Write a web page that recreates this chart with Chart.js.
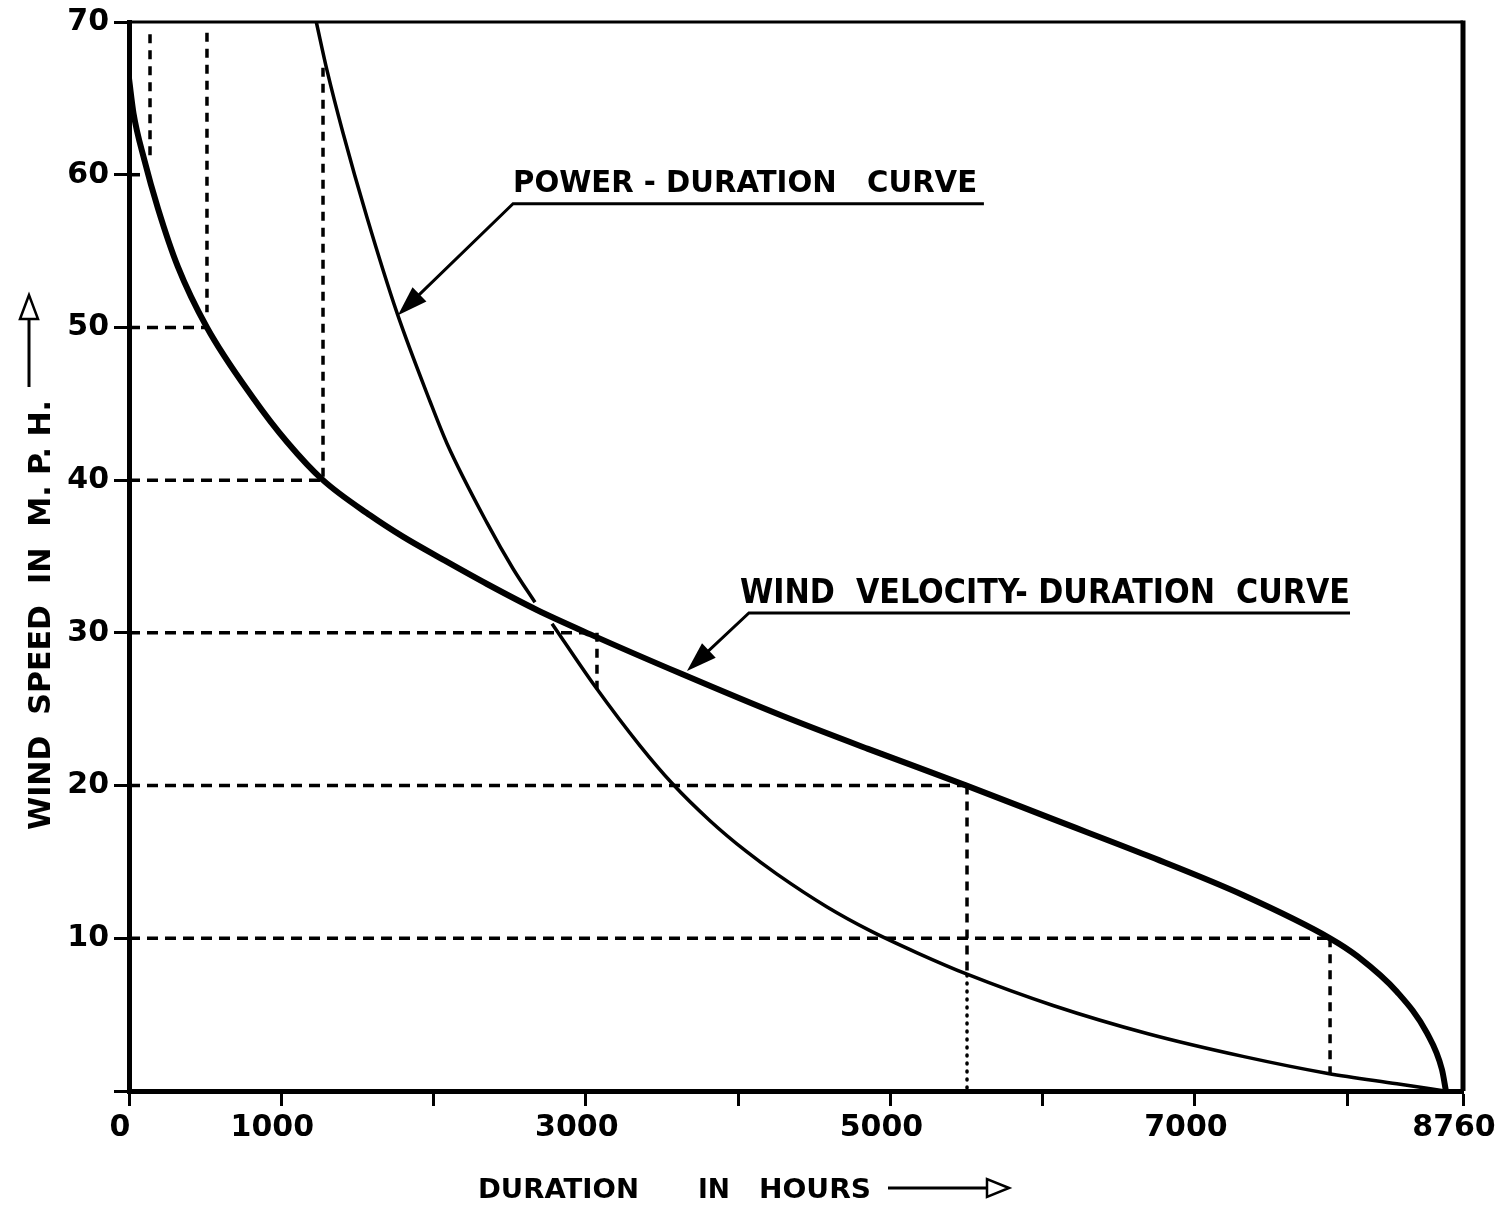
<!DOCTYPE html>
<html>
<head>
<meta charset="utf-8">
<title>Wind velocity and power duration curves</title>
<script src="https://cdn.jsdelivr.net/npm/chart.js@4.4.1/dist/chart.umd.min.js"></script>
<style>
  html, body { margin: 0; padding: 0; background: #fff; }
  canvas { display: block; }
</style>
</head>
<body>
<canvas id="chart" width="1499" height="1208"></canvas>
<script>
// duration (hours in the year) against wind speed (m.p.h.)
const windHours = [0, 30, 100, 190, 320, 512, 814, 1038, 1274, 1583, 1799, 2062, 2351, 2679, 3030, 3631, 4281, 4853, 5500, 6068, 6691, 7322, 7887, 8070, 8326, 8523, 8622, 8648];
const windSpeed = [66.3, 64.0, 61.0, 57.8, 54.0, 50.0, 45.4, 42.5, 40.0, 37.7, 36.3, 34.8, 33.2, 31.5, 29.9, 27.3, 24.6, 22.4, 20.0, 17.8, 15.4, 12.8, 10.0, 8.8, 6.5, 3.8, 1.4, 0];

// power curve is drawn in two pieces (broken where it crosses the wind curve)
const powerHoursA = [1230, 1300, 1405, 1563, 1760, 1977, 2088, 2351, 2522, 2666];
const powerSpeedA = [70, 66.85, 62.75, 57.2, 50.95, 45.15, 42.4, 37.2, 34.2, 32.0];
const powerHoursB = [2778, 3060, 3356, 3566, 3815, 4052, 4255, 4584, 4866, 5175, 5503, 6068, 6691, 7322, 7873, 8326, 8640];
const powerSpeedB = [30.6, 26.5, 22.6, 20.15, 17.7, 15.7, 14.2, 12.05, 10.5, 9.05, 7.65, 5.6, 3.75, 2.25, 1.15, 0.47, 0];

// dashed construction lines
const levelSpeeds = [60, 50, 40, 30, 20, 10];
const levelHours = [100, 512, 1274, 3073, 5503, 7887];
const dropHours = [138, 512, 1274, 3073, 5503, 7887];
const dropFrom = [69.2, 69.3, 67, 30, 20, 10];
const dropTo = [61, 51, 40, 26.3, 7.6, 1.1];
const dottedHours = [5503];
const dottedFrom = [7.6];

// ticks
const xTickValues = [0, 1000, 2000, 3000, 4000, 5000, 6000, 7000, 8000, 8760];
const xTickLabels = ['0', '1000', '', '3000', '', '5000', '', '7000', '', '8760'];
const yTickValues = [0, 10, 20, 30, 40, 50, 60, 70];
const yTickLabels = ['', '10', '20', '30', '40', '50', '60', '70'];

const pts = (xs, ys) => xs.map((x, i) => ({ x: x, y: ys[i] }));

const datasets = [];

// guide lines first so the curves sit on top
levelSpeeds.forEach((v, i) => {
  datasets.push({
    data: [{ x: 0, y: v }, { x: levelHours[i], y: v }],
    borderColor: '#000', borderWidth: 3.5, borderDash: [11, 7], tension: 0
  });
});
dropHours.forEach((h, i) => {
  datasets.push({
    data: [{ x: h, y: dropFrom[i] }, { x: h, y: dropTo[i] }],
    borderColor: '#000', borderWidth: 3.5, borderDash: [9, 7], tension: 0
  });
});
dottedHours.forEach((h, i) => {
  datasets.push({
    data: [{ x: h, y: dottedFrom[i] }, { x: h, y: 0 }],
    borderColor: '#000', borderWidth: 3.5, borderDash: [1, 7], borderCapStyle: 'round', tension: 0
  });
});

datasets.push({
  label: 'Power-duration curve',
  data: pts(powerHoursA, powerSpeedA),
  borderColor: '#000', borderWidth: 3.5, cubicInterpolationMode: 'monotone'
});
datasets.push({
  label: 'Power-duration curve (lower)',
  data: pts(powerHoursB, powerSpeedB),
  borderColor: '#000', borderWidth: 3.5, cubicInterpolationMode: 'monotone'
});
datasets.push({
  label: 'Wind velocity-duration curve',
  data: pts(windHours, windSpeed),
  borderColor: '#000', borderWidth: 6, cubicInterpolationMode: 'monotone'
});

// text squeezed/stretched to a given width
function fitText(ctx, text, x, base, width, font) {
  ctx.font = font;
  const w = ctx.measureText(text).width;
  ctx.save();
  ctx.translate(x, base);
  ctx.scale(width / w, 1);
  ctx.textAlign = 'left';
  ctx.textBaseline = 'alphabetic';
  ctx.fillText(text, 0, 0);
  ctx.restore();
}

function arrowHead(ctx, fx, fy, tx, ty, len, half, filled) {
  const a = Math.atan2(ty - fy, tx - fx);
  const bx = tx - len * Math.cos(a), by = ty - len * Math.sin(a);
  ctx.beginPath();
  ctx.moveTo(tx, ty);
  ctx.lineTo(bx + half * Math.sin(a), by - half * Math.cos(a));
  ctx.lineTo(bx - half * Math.sin(a), by + half * Math.cos(a));
  ctx.closePath();
  if (filled) ctx.fill(); else { ctx.fillStyle = '#fff'; ctx.fill(); ctx.stroke(); ctx.fillStyle = '#000'; }
}

// curve labels, placed in hours / mph
const powerNote = { text: 'POWER - DURATION   CURVE', tip: [1766, 50.8], elbow: [2522, 58.1], end: [5614, 58.1], textEnd: 5569, lift: 12, font: 'bold 30px "DejaVu Sans"' };
const windNote = { text: 'WIND  VELOCITY- DURATION  CURVE', tip: [3664, 27.5], elbow: [4071, 31.3], end: [8018, 31.3], textStart: 4012, textEnd: 8018, lift: 10, font: 'bold 33px "DejaVu Sans"' };

const notesPlugin = {
  id: 'notes',
  afterDraw(chart) {
    const { ctx, chartArea: a, scales: { x, y } } = chart;
    ctx.save();
    ctx.strokeStyle = '#000';
    ctx.fillStyle = '#000';
    ctx.lineCap = 'butt';

    // top and right edges of the frame
    ctx.lineWidth = 3;
    ctx.beginPath(); ctx.moveTo(a.left, a.top); ctx.lineTo(a.right, a.top); ctx.stroke();
    ctx.lineWidth = 5;
    ctx.beginPath(); ctx.moveTo(a.right, a.top - 1.5); ctx.lineTo(a.right, a.bottom); ctx.stroke();

    [powerNote, windNote].forEach(n => {
      const tx = x.getPixelForValue(n.tip[0]), ty = y.getPixelForValue(n.tip[1]);
      const ex = x.getPixelForValue(n.elbow[0]), ey = y.getPixelForValue(n.elbow[1]);
      const zx = x.getPixelForValue(n.end[0]);
      ctx.lineWidth = 3;
      ctx.beginPath();
      ctx.moveTo(zx, ey); ctx.lineTo(ex, ey);
      const ang = Math.atan2(ty - ey, tx - ex);
      ctx.lineTo(tx - 20 * Math.cos(ang), ty - 20 * Math.sin(ang));
      ctx.stroke();
      arrowHead(ctx, ex, ey, tx, ty, 30, 10, true);
      const sx = n.textStart !== undefined ? x.getPixelForValue(n.textStart) : ex;
      fitText(ctx, n.text, sx, ey - n.lift, x.getPixelForValue(n.textEnd) - sx, n.font);
    });

    // axis titles
    const bold = 'bold 27px "DejaVu Sans"';
    fitText(ctx, 'DURATION', 478, 1198, 161, bold);
    fitText(ctx, 'IN', 698, 1198, 32, bold);
    fitText(ctx, 'HOURS', 759, 1198, 112, bold);
    ctx.lineWidth = 3;
    ctx.beginPath(); ctx.moveTo(888, 1188); ctx.lineTo(988, 1188); ctx.stroke();
    ctx.lineWidth = 2.5;
    arrowHead(ctx, 888, 1188, 1009, 1188, 22, 9, false);

    ctx.save();
    ctx.translate(50, 830);
    ctx.rotate(-Math.PI / 2);
    fitText(ctx, 'WIND  SPEED  IN  M. P. H.', 0, 0, 430, 'bold 30px "DejaVu Sans"');
    ctx.restore();
    ctx.lineWidth = 3;
    ctx.beginPath(); ctx.moveTo(29, 387); ctx.lineTo(29, 318); ctx.stroke();
    ctx.lineWidth = 2.5;
    arrowHead(ctx, 29, 387, 29, 295, 24, 9, false);

    ctx.restore();
  }
};

Chart.defaults.font.family = '"DejaVu Sans", sans-serif';
Chart.defaults.color = '#000';

new Chart(document.getElementById('chart'), {
  type: 'scatter',
  data: { datasets: datasets },
  options: {
    responsive: false,
    animation: false,
    devicePixelRatio: 1,
    showLine: true,
    elements: { point: { radius: 0, hoverRadius: 0 }, line: { fill: false } },
    layout: { padding: { top: 22, right: 36, bottom: 0, left: 0 }, autoPadding: false },
    plugins: { legend: { display: false }, tooltip: { enabled: false } },
    scales: {
      x: {
        type: 'linear', min: 0, max: 8760,
        afterBuildTicks: s => { s.ticks = xTickValues.map(v => ({ value: v })); },
        afterFit: s => { s.height = 117; s.paddingLeft = 0; s.paddingRight = 0; },
        border: { display: true, color: '#000', width: 5 },
        grid: { drawOnChartArea: false, drawTicks: true, tickLength: 15, tickWidth: 3, tickColor: '#000' },
        ticks: {
          autoSkip: false, maxRotation: 0, padding: 4, labelOffset: -9,
          font: { size: 30, weight: 'bold' }, color: '#000',
          callback: (v, i) => xTickLabels[i]
        }
      },
      y: {
        type: 'linear', min: 0, max: 70,
        afterBuildTicks: s => { s.ticks = yTickValues.map(v => ({ value: v })); },
        afterFit: s => { s.width = 129; s.paddingTop = 0; s.paddingBottom = 0; },
        border: { display: true, color: '#000', width: 5 },
        grid: { drawOnChartArea: false, drawTicks: true, tickLength: 15, tickWidth: 3, tickColor: '#000' },
        ticks: {
          autoSkip: false, padding: 5,
          font: { size: 30, weight: 'bold' }, color: '#000',
          callback: (v, i) => yTickLabels[i]
        }
      }
    }
  },
  plugins: [notesPlugin]
});
</script>
</body>
</html>
